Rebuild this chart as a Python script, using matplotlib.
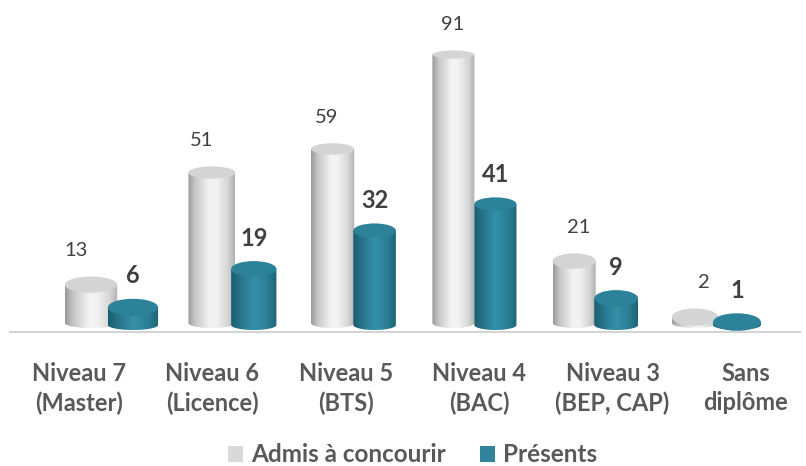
import numpy as np
import matplotlib.pyplot as plt
from matplotlib.colors import LinearSegmentedColormap
from matplotlib.patches import Polygon, Ellipse, Patch

plt.rcParams['font.family'] = ['Lato', 'DejaVu Sans']

categories = ["Niveau 7\n(Master)", "Niveau 6\n(Licence)", "Niveau 5\n(BTS)",
              "Niveau 4\n(BAC)", "Niveau 3\n(BEP, CAP)", "Sans\ndiplôme"]
admis = [13, 51, 59, 91, 21, 2]
presents = [6, 19, 32, 41, 9, 1]
series_names = ["Admis à concourir", "Présents"]

# -----------------------------
# Layout in pixels (806 x 466)
# -----------------------------
W, H = 806, 466
PX = 2.95            # pixels per unit of value
base_px = 323        # bottom ellipse centre of the grey bars
axis_px = 332        # baseline line
step_px = 120.8      # distance between bar groups
first_px = 112       # first bar group centre
mid_px = 474         # centre of the perspective
left_px, right_px = 10, 800
label_first_px, label_step_px = 79, 133.4   # category labels sit on the front plane

fig = plt.figure(figsize=(W / 100, H / 100), dpi=100)
ax = fig.add_axes([left_px / W, (H - axis_px) / H,
                   (right_px - left_px) / W, axis_px / H])

offset = 21 / step_px

gray_cmap = LinearSegmentedColormap.from_list("g", [
    (0, "#9a9a9a"), (0.15, "#c6c6c6"), (0.45, "#f2f2f2"),
    (0.6, "#f3f3f3"), (0.85, "#d6d6d6"), (1, "#b0b0b0")])
teal_cmap = LinearSegmentedColormap.from_list("t", [
    (0, "#1a5d70"), (0.15, "#256e84"), (0.5, "#3391a9"),
    (0.8, "#2a7e94"), (1, "#1e6477")])


def to_px(xd):
    return first_px + xd * step_px


def ell_h(v, base):
    # perspective: caps lower in the picture look rounder
    ypx = base_px - (v + base) * PX
    return (8 + 0.035 * (ypx - 50)) / PX


def cylinder(xc, v, base, cmap, cap_color):
    # bars away from the centre look wider
    w_px = 42 + 11 * ((to_px(xc) - 460) / 380) ** 2
    bw = w_px / step_px
    xl, xr = xc - bw / 2, xc + bw / 2
    hb = 10 / PX
    ht = ell_h(v, base)
    top = base + v
    t = np.linspace(0, np.pi, 60)
    arc = np.column_stack([xc - bw / 2 * np.cos(t), base - hb / 2 * np.sin(t)])
    pts = np.vstack([[xl, top], [xl, base], arc, [xr, base], [xr, top]])
    body = Polygon(pts, closed=True, facecolor="none", edgecolor="none",
                   transform=ax.transData)
    ax.add_patch(body)
    grad = np.linspace(0, 1, 200).reshape(1, -1)
    im = ax.imshow(grad, cmap=cmap, aspect="auto", interpolation="bilinear",
                   extent=(xl, xr, base - hb, top + ht), zorder=2)
    im.set_clip_path(body)
    ax.add_patch(Ellipse((xc, top), bw, ht, facecolor=cap_color,
                         edgecolor="none", zorder=3))
    return top + ht / 2


x = np.arange(len(categories))
teal_base = -2 / PX

for i in range(len(categories)):
    xc = x[i] - offset
    g_top = cylinder(xc, admis[i], 0, gray_cmap, "#d4d4d4")
    shift = 0.04 * (to_px(xc) - mid_px) / step_px
    ax.text(xc + shift, g_top + 26 / PX, str(admis[i]), ha="center",
            va="center", fontsize=14.5, color="#404040")

for i in range(len(categories)):
    xc = x[i] + offset
    t_top = cylinder(xc, presents[i], teal_base, teal_cmap, "#2c8298")
    ax.text(xc, t_top + 23 / PX, str(presents[i]), ha="center",
            va="center", fontsize=17, fontweight="bold", color="#404040")

ax.set_xlim((left_px - first_px) / step_px, (right_px - first_px) / step_px)
ax.set_ylim(-(axis_px - base_px) / PX, base_px / PX)

for s in ["top", "right", "left"]:
    ax.spines[s].set_visible(False)
ax.spines["bottom"].set_color("#d4d4d4")
ax.spines["bottom"].set_linewidth(1.5)
ax.set_yticks([])
ax.set_xticks([])

for i, cat in enumerate(categories):
    fig.text((label_first_px + i * label_step_px) / W, 1 - 362 / H, cat,
             ha="center", va="top", fontsize=17, fontweight="bold",
             color="#595959", linespacing=1.32)

handles = [Patch(facecolor="#d9d9d9", edgecolor="none"),
           Patch(facecolor="#31849b", edgecolor="none")]
fig.legend(handles, series_names, loc="center", ncol=2, frameon=False,
           bbox_to_anchor=(0.512, 11 / H), handlelength=0.6, handleheight=0.6,
           handletextpad=0.35, columnspacing=1.4,
           prop={"size": 17.5, "weight": "bold"}, labelcolor="#595959")

plt.savefig("out.png", dpi=100)
